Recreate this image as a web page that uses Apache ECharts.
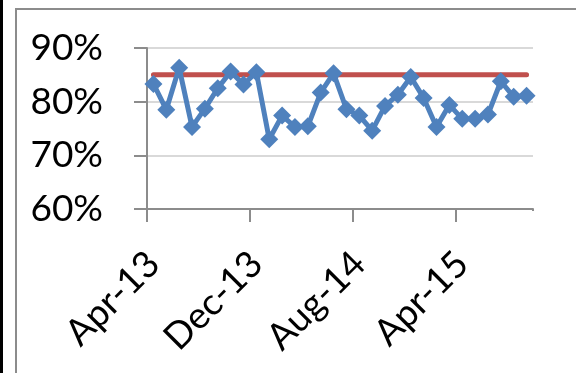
<!DOCTYPE html>
<html>
<head>
<meta charset="utf-8">
<script src="https://cdn.jsdelivr.net/npm/echarts@6/dist/echarts.min.js"></script>
<style>
  html, body { margin: 0; padding: 0; background: #fff; }
  #chart { width: 576px; height: 373px; }
</style>
</head>
<body>
<div id="chart"></div>
<script>
// Monthly categories, Apr-13 through Sep-15
const months = [
  'Apr-13','May-13','Jun-13','Jul-13','Aug-13','Sep-13','Oct-13','Nov-13','Dec-13',
  'Jan-14','Feb-14','Mar-14','Apr-14','May-14','Jun-14','Jul-14','Aug-14','Sep-14',
  'Oct-14','Nov-14','Dec-14','Jan-15','Feb-15','Mar-15','Apr-15','May-15','Jun-15',
  'Jul-15','Aug-15','Sep-15'
];

// Monthly rate (%)
const actual = [
  83.3, 78.5, 86.3, 75.3, 78.7, 82.5, 85.6, 83.2, 85.5,
  73.0, 77.4, 75.3, 75.4, 81.7, 85.3, 78.6, 77.4, 74.6,
  79.2, 81.3, 84.6, 80.7, 75.3, 79.4, 76.8, 76.8, 77.6,
  83.8, 80.9, 81.1
];

// Target level (%)
const target = [
  85, 85, 85, 85, 85, 85, 85, 85, 85, 85,
  85, 85, 85, 85, 85, 85, 85, 85, 85, 85,
  85, 85, 85, 85, 85, 85, 85, 85, 85, 85
];

// Y axis range and step (%)
const yMin = 60, yMax = 90, yStep = 10;

// One labelled tick every 8 months
const labelEvery = 8;

const chart = echarts.init(document.getElementById('chart'), null, { renderer: 'canvas' });

const axisGray = '#8c8c8c';
const font = 'Lato, "Liberation Sans", sans-serif';

chart.setOption({
  animation: false,
  backgroundColor: '#ffffff',
  grid: { left: 147, right: 43, top: 48, bottom: 164, containLabel: false },
  graphic: [
    { type: 'rect', shape: { x: 0, y: 0, width: 3, height: 373 }, style: { fill: '#000' }, silent: true },
    { type: 'polyline', shape: { points: [[16, 400], [16, 9], [600, 9]] },
      style: { stroke: axisGray, lineWidth: 2, fill: null }, silent: true },
    // the axis ends without a closing tick mark
    { type: 'rect', shape: { x: 530, y: 211, width: 8, height: 14 },
      style: { fill: '#ffffff' }, z: 100, silent: true }
  ],
  xAxis: {
    type: 'category',
    data: months,
    boundaryGap: true,
    axisLine: { show: true, lineStyle: { color: axisGray, width: 2 } },
    axisTick: {
      show: true,
      interval: labelEvery - 1,
      length: 13,
      lineStyle: { color: axisGray, width: 2 }
    },
    axisLabel: {
      interval: labelEvery - 1,
      rotate: 45,
      margin: 49,
      padding: [38, 0, 0, 0],
      color: '#000',
      fontFamily: font,
      fontSize: 37
    },
    splitLine: { show: false }
  },
  yAxis: {
    type: 'value',
    min: yMin,
    max: yMax,
    interval: yStep,
    axisLine: { show: true, lineStyle: { color: axisGray, width: 2 } },
    axisTick: { show: true, length: 13, lineStyle: { color: axisGray, width: 2 } },
    axisLabel: {
      formatter: '{value}%',
      margin: 44,
      color: '#000',
      fontFamily: font,
      fontSize: 37
    },
    splitLine: { show: true, lineStyle: { color: '#d9d9d9', width: 2 } }
  },
  series: [
    {
      name: 'Target',
      type: 'line',
      data: target,
      symbol: 'none',
      lineStyle: { color: '#c0504d', width: 5, cap: 'round' },
      itemStyle: { color: '#c0504d' },
      z: 2
    },
    {
      name: 'Actual',
      type: 'line',
      data: actual,
      symbol: 'diamond',
      symbolSize: 18,
      showSymbol: true,
      showAllSymbol: true,
      lineStyle: { color: '#4f81bd', width: 5, join: 'round' },
      itemStyle: { color: '#4f81bd' },
      z: 3
    }
  ]
});
</script>
</body>
</html>
